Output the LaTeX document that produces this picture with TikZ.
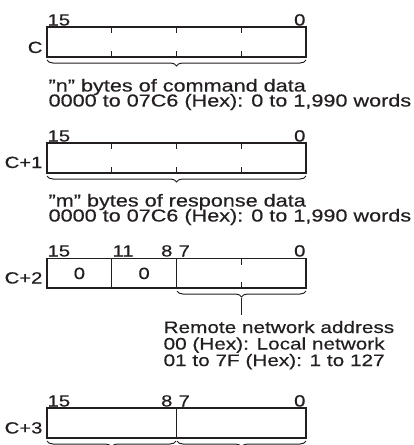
\documentclass[tikz,border=0pt]{standalone}
\usepackage{fontspec}
\setmainfont{Liberation Sans}[FakeStretch=1.25,FakeBold=0.5]
\usetikzlibrary{decorations.pathreplacing}
\definecolor{ink}{HTML}{231F20}
\begin{document}
\begin{tikzpicture}[x=1pt,y=-1pt, line width=1.2pt, draw=ink, color=ink,
  txt/.style={inner sep=0pt, font=\fontsize{16.2}{16}\selectfont},
  lft/.style={txt, anchor=base west},
  rgt/.style={txt, anchor=base east},
  ctr/.style={txt, anchor=base},
  big/.style={lft, font=\fontsize{17.3}{16}\selectfont},
  mid/.style={lft, font=\fontsize{16.6}{16}\selectfont},
  brc/.style={decorate, decoration={brace, amplitude=6pt}, line width=1pt},
  tick/.style={line width=1.1pt}]
\useasboundingbox (0,0) rectangle (414,445);
% ---------- C ----------
\node[lft] (c15) at (47,25.5) {15};
\node[rgt] (c0) at (306,25.5) {0};
\node[rgt] (cl) at (43,53) {C};
\draw (47,27) rectangle (306,57);
\foreach \x in {111.75,176.5,241.25}{
  \draw[tick] (\x,27) -- +(0,6);
  \draw[tick] (\x,57) -- +(0,-6);}
\draw[brc] (306,60) -- (47,60);
\node[big] (ct1) at (48,91.5) {\char34n\char34{} bytes of command data};
\node[big] (ct2) at (48,106.5) {0000 to 07C6 (Hex): 0 to 1,990 words};
% ---------- C+1 ----------
\node[lft] (d15) at (47,141.5) {15};
\node[rgt] (d0) at (306,141.5) {0};
\node[rgt] (dl) at (43,168) {C+1};
\draw (47,143) rectangle (306,173);
\foreach \x in {111.75,176.5,241.25}{
  \draw[tick] (\x,143) -- +(0,6);
  \draw[tick] (\x,173) -- +(0,-6);}
\draw[brc] (306,176) -- (47,176);
\node[big] (dt1) at (48,206.5) {\char34m\char34{} bytes of response data};
\node[big] (dt2) at (48,221.5) {0000 to 07C6 (Hex): 0 to 1,990 words};
% ---------- C+2 ----------
\node[lft] (e15) at (47,256.5) {15};
\node[lft] (e11) at (112,256.5) {11};
\node[rgt] (e8) at (173,256.5) {8};
\node[lft] (e7) at (178,256.5) {7};
\node[rgt] (e0) at (306,256.5) {0};
\node[rgt] (el) at (43,283.5) {C+2};
\draw (47,258.5) rectangle (306,288);
\draw (111.75,258.5) -- (111.75,288);
\draw (176.5,258.5) -- (176.5,288);
\draw[tick] (241.25,258.5) -- +(0,6);
\draw[tick] (241.25,288) -- +(0,-6);
\node[ctr] (z1) at (79.4,279) {0};
\node[ctr] (z2) at (144.1,279) {0};
\draw[brc] (306,291) -- (177,291);
\coordinate (tip) at (241.25,298);
\node[mid] (et1) at (163,333) {Remote network address};
\node[mid] (et2) at (163,349.5) {00 (Hex): Local network};
\node[mid] (et3) at (163,366) {01 to 7F (Hex): 1 to 127};
\draw[tick] (tip) -- (241.25,315);
% ---------- C+3 ----------
\node[lft] (f15) at (47,406.5) {15};
\node[rgt] (f8) at (173,406.5) {8};
\node[lft] (f7) at (178,406.5) {7};
\node[rgt] (f0) at (306,406.5) {0};
\node[rgt] (fl) at (43,433.5) {C+3};
\draw (47,408) rectangle (306,438);
\draw (176.5,408) -- (176.5,438);
\begin{scope}
\clip (0,0) rectangle (414,445);
\draw[brc] (176,441) -- (47,441);
\draw[brc] (306,441) -- (177,441);
\end{scope}
\end{tikzpicture}
\end{document}
